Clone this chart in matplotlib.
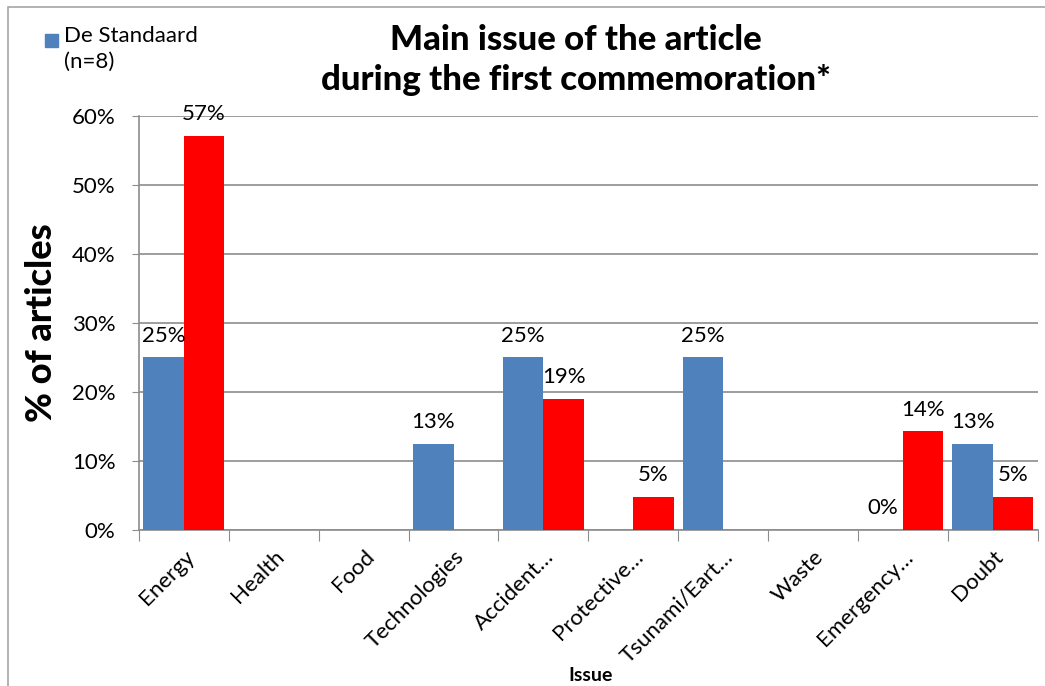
import matplotlib.pyplot as plt
import numpy as np
from matplotlib.patches import Rectangle

plt.rcParams['font.family'] = ['Lato', 'DejaVu Sans']

issues = ['Energy', 'Health', 'Food', 'Technologies', 'Accident…', 'Protective…',
          'Tsunami/Eart…', 'Waste', 'Emergency…', 'Doubt']
standaard = [25.0, 0, 0, 12.5, 25.0, 0, 25.0, 0, 0, 12.5]
red_series = [57.1, 0, 0, 0, 19.0, 4.8, 0, 0, 14.3, 4.8]
standaard_labels = ['25%', '', '', '13%', '25%', '', '25%', '', '0%', '13%']
red_labels = ['57%', '', '', '', '19%', '5%', '', '', '14%', '5%']
yticks = [0, 10, 20, 30, 40, 50, 60]

blue = '#4f81bd'
red = '#ff0000'

fig = plt.figure(figsize=(10.45, 6.86), dpi=100)
ax = fig.add_axes([0.133, 0.2274, 0.86, 0.6036])

# outer chart border
fig.patches.append(Rectangle((0.008, -0.01), 1.0, 0.9995, transform=fig.transFigure,
                             fill=False, edgecolor='#a6a6a6', linewidth=1.2))

x = np.arange(len(issues))
w = 0.45
b1 = ax.bar(x - w / 2, standaard, w, color=blue, zorder=3)
b2 = ax.bar(x + w / 2, red_series, w, color=red, zorder=3)

for bars, labs in ((b1, standaard_labels), (b2, red_labels)):
    for bar, lab in zip(bars, labs):
        if lab:
            ax.text(bar.get_x() + bar.get_width() / 2, bar.get_height() + 1.7, lab,
                    ha='center', va='bottom', fontsize=16)

ax.set_xlim(-0.5, len(issues) - 0.5)
ax.set_ylim(0, 60)
ax.set_yticks(yticks)
ax.set_yticklabels([f'{t}%' for t in yticks], fontsize=16)
ax.yaxis.grid(True, color='#8c8c8c', linewidth=1.2, zorder=0)
ax.set_axisbelow(True)

ax.set_xticks(np.arange(len(issues) + 1) - 0.5)
ax.set_xticklabels([])
ax.set_xticks(x, minor=True)
ax.set_xticklabels(issues, minor=True, rotation=45, ha='right', rotation_mode='anchor',
                   fontsize=16)
ax.tick_params(axis='x', which='major', length=8, color='#8c8c8c')
ax.tick_params(axis='x', which='minor', length=0, pad=12)
ax.tick_params(axis='y', length=5, color='#8c8c8c', pad=12)

for s in ['top', 'right']:
    ax.spines[s].set_visible(False)
for s in ['left', 'bottom']:
    ax.spines[s].set_color('#8c8c8c')
    ax.spines[s].set_linewidth(1.2)

ax.set_ylabel('% of articles', fontsize=26, fontweight='black', labelpad=10)
fig.text(0.565, 0.003, 'Issue', ha='center', va='bottom', fontsize=14, fontweight='bold')

fig.text(0.551, 0.912, 'Main issue of the article\nduring the first commemoration*',
         ha='center', va='center', fontsize=25, fontweight='black', linespacing=1.3)

# legend
fig.patches.append(Rectangle((45 / 1045, 1 - 47 / 686), 13 / 1045, 13 / 686,
                             transform=fig.transFigure, color=blue))
fig.text(64 / 1045, 1 - 26 / 686, 'De Standaard\n(n=8)', ha='left', va='top',
         fontsize=16, linespacing=1.35)

fig.savefig('out.png', dpi=100)
